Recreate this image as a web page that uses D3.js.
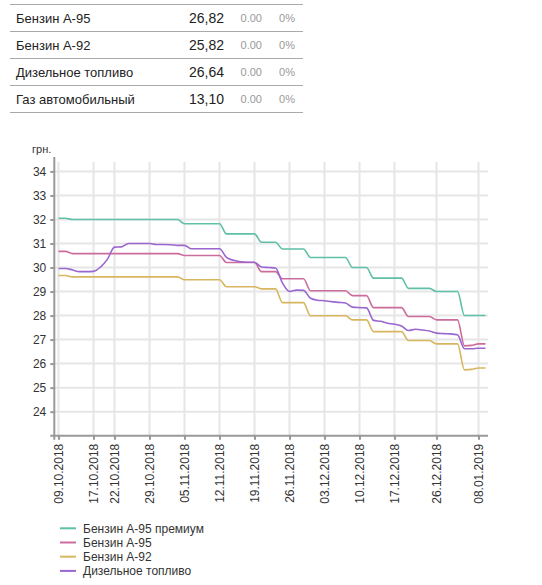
<!DOCTYPE html>
<html><head><meta charset="utf-8">
<script src="https://cdn.jsdelivr.net/npm/d3@7"></script>
<style>
html,body{margin:0;padding:0;background:#fff;}
svg{display:block;font-family:Arial,"Liberation Sans",sans-serif;}
</style></head>
<body>
<svg id="c" width="542" height="585"></svg>
<script>
// ---- table data ----
const fuelNames = ["Бензин А-95", "Бензин А-92", "Дизельное топливо", "Газ автомобильный"];
const fuelPrices = ["26,82", "25,82", "26,64", "13,10"];
const fuelChanges = ["0.00", "0.00", "0.00", "0.00"];
const fuelPct = ["0%", "0%", "0%", "0%"];

// ---- chart data ----
const dates = [
 "09.10.2018","10.10.2018","11.10.2018","12.10.2018","16.10.2018","17.10.2018","18.10.2018","19.10.2018",
 "22.10.2018","23.10.2018","24.10.2018","25.10.2018","26.10.2018","29.10.2018","30.10.2018","31.10.2018",
 "01.11.2018","02.11.2018","05.11.2018","06.11.2018","07.11.2018","08.11.2018","09.11.2018","12.11.2018",
 "13.11.2018","14.11.2018","15.11.2018","16.11.2018","19.11.2018","20.11.2018","21.11.2018","22.11.2018",
 "23.11.2018","26.11.2018","27.11.2018","28.11.2018","29.11.2018","30.11.2018","03.12.2018","04.12.2018",
 "05.12.2018","06.12.2018","07.12.2018","10.12.2018","11.12.2018","12.12.2018","13.12.2018","14.12.2018",
 "17.12.2018","18.12.2018","19.12.2018","20.12.2018","21.12.2018","24.12.2018","26.12.2018","27.12.2018",
 "28.12.2018","02.01.2019","03.01.2019","04.01.2019","08.01.2019","09.01.2019"];
const tickDates = ["09.10.2018","17.10.2018","22.10.2018","29.10.2018","05.11.2018","12.11.2018","19.11.2018",
 "26.11.2018","03.12.2018","10.12.2018","17.12.2018","26.12.2018","08.01.2019"];
const yTicks = [24,25,26,27,28,29,30,31,32,33,34];

const seriesNames = ["Бензин А-95 премиум", "Бензин А-95", "Бензин А-92", "Дизельное топливо"];
const seriesColors = ["#5fbfa7", "#cc6c9c", "#d8b660", "#9a66d0"];

const premium95 = [32.05,32.05,32.0,32.0,32.0,32.0,32.0,32.0,32.0,32.0,32.0,32.0,32.0,32.0,32.0,32.0,
 32.0,32.0,31.82,31.82,31.82,31.82,31.82,31.82,31.4,31.4,31.4,31.4,31.4,31.05,31.05,31.05,
 30.77,30.77,30.77,30.77,30.42,30.42,30.42,30.42,30.42,30.42,30.0,30.0,30.0,29.56,29.56,29.56,
 29.56,29.56,29.13,29.13,29.13,29.13,29.0,29.0,29.0,29.0,28.0,28.0,28.0,28.0];
const a95 = [30.67,30.67,30.58,30.58,30.58,30.58,30.58,30.58,30.58,30.58,30.58,30.58,30.58,30.58,30.58,30.58,
 30.58,30.58,30.5,30.5,30.5,30.5,30.5,30.5,30.21,30.21,30.21,30.21,30.21,29.83,29.83,29.83,
 29.53,29.53,29.53,29.53,29.03,29.03,29.03,29.03,29.03,29.03,28.83,28.83,28.83,28.33,28.33,28.33,
 28.33,28.33,27.96,27.96,27.96,27.96,27.82,27.82,27.82,27.82,26.74,26.76,26.82,26.82];
const a92 = [29.67,29.67,29.61,29.61,29.61,29.61,29.61,29.61,29.61,29.61,29.61,29.61,29.61,29.61,29.61,29.61,
 29.61,29.61,29.49,29.49,29.49,29.49,29.49,29.49,29.2,29.2,29.2,29.2,29.2,29.11,29.11,29.11,
 28.54,28.54,28.54,28.54,27.99,27.99,27.99,27.99,27.99,27.99,27.82,27.82,27.82,27.33,27.33,27.33,
 27.33,27.33,26.96,26.96,26.96,26.96,26.82,26.82,26.82,26.82,25.74,25.76,25.82,25.82];
const diesel = [29.96,29.96,29.9,29.83,29.83,29.84,30.02,30.35,30.85,30.86,31.0,31.0,31.0,31.0,30.96,30.96,
 30.95,30.92,30.92,30.78,30.78,30.78,30.78,30.78,30.42,30.3,30.24,30.22,30.22,30.02,30.0,29.98,
 29.35,29.0,29.06,29.05,28.72,28.64,28.62,28.58,28.55,28.52,28.35,28.33,28.32,27.8,27.76,27.68,
 27.64,27.57,27.38,27.43,27.4,27.36,27.27,27.25,27.24,27.2,26.62,26.62,26.64,26.64];
const seriesValues = [premium95, a95, a92, diesel];

(function () {
const svg = d3.select("#c");

// ---- table ----
const rowTop = 4.5, rowH = 27;
const tbl = svg.append("g");
tbl.append("line").attr("x1", 10).attr("x2", 303).attr("y1", rowTop).attr("y2", rowTop)
  .attr("stroke", "#aaa").attr("stroke-width", 1);
fuelNames.forEach((n, i) => {
  const cy = rowTop + rowH * i + rowH / 2;
  tbl.append("text").attr("x", 16).attr("y", cy + 4.5).attr("font-size", 13).attr("fill", "#222").text(n);
  tbl.append("text").attr("x", 224).attr("y", cy + 5).attr("font-size", 14).attr("fill", "#222")
    .attr("text-anchor", "end").text(fuelPrices[i]);
  tbl.append("text").attr("x", 262).attr("y", cy + 4).attr("font-size", 11).attr("fill", "#999")
    .attr("text-anchor", "end").text(fuelChanges[i]);
  tbl.append("text").attr("x", 295).attr("y", cy + 4).attr("font-size", 11).attr("fill", "#999")
    .attr("text-anchor", "end").text(fuelPct[i]);
  tbl.append("line").attr("x1", 10).attr("x2", 303)
    .attr("y1", rowTop + rowH * (i + 1)).attr("y2", rowTop + rowH * (i + 1))
    .attr("stroke", "#aaa").attr("stroke-width", 1);
});

// ---- chart ----
const pLeft = 54.3, pRight = 488, pTop = 157, pBottom = 435.7;
const x = d3.scalePoint().domain(dates).range([58.5, 485.5]);
const y = d3.scaleLinear().domain([23, 34.6]).range([pBottom, pTop]);

const grid = svg.append("g");
grid.selectAll("line.h").data(yTicks).join("line").attr("class", "h")
  .attr("x1", pLeft).attr("x2", pRight).attr("y1", d => y(d)).attr("y2", d => y(d))
  .attr("stroke", "#e6e6e6").attr("stroke-width", 2);
grid.selectAll("line.v").data(tickDates).join("line").attr("class", "v")
  .attr("x1", d => x(d)).attr("x2", d => x(d)).attr("y1", pTop + 5).attr("y2", pBottom)
  .attr("stroke", "#e6e6e6").attr("stroke-width", 2);

// axes
const yAxis = d3.axisLeft(y).tickValues(yTicks).tickSize(4).tickPadding(4);
const gy = svg.append("g").attr("transform", `translate(${pLeft},0)`).call(yAxis);
gy.select(".domain").remove();
gy.append("line").attr("x1", 0).attr("x2", 0).attr("y1", pTop).attr("y2", pBottom + 4)
  .attr("stroke", "#999").attr("stroke-width", 2);
gy.selectAll(".tick line").attr("stroke", "#999").attr("stroke-width", 2);
gy.selectAll(".tick text").attr("font-size", 12).attr("fill", "#333").attr("font-family", "Arial,'Liberation Sans',sans-serif");

const xAxis = d3.axisBottom(x).tickValues(tickDates).tickSize(4).tickPadding(6);
const gx = svg.append("g").attr("transform", `translate(0,${pBottom})`).call(xAxis);
gx.select(".domain").remove();
gx.append("line").attr("x1", pLeft - 4).attr("x2", pRight).attr("y1", 0).attr("y2", 0)
  .attr("stroke", "#999").attr("stroke-width", 2);
gx.selectAll(".tick line").attr("stroke", "#999").attr("stroke-width", 2);
gx.selectAll(".tick text").attr("font-size", 12).attr("fill", "#333")
  .attr("font-family", "Arial,'Liberation Sans',sans-serif")
  .attr("text-anchor", "end").attr("dy", null)
  .attr("transform", "translate(4,8) rotate(-90)").attr("x", 0).attr("y", 0);

svg.append("text").attr("x", 32).attr("y", 153).attr("font-size", 11).attr("fill", "#333").text("грн.");

// lines
const line = d3.line().x((d, i) => x(dates[i])).y(d => y(d)).curve(d3.curveMonotoneX);
seriesValues.forEach((vals, k) => {
  svg.append("path").datum(vals).attr("d", line).attr("fill", "none")
    .attr("stroke", seriesColors[k]).attr("stroke-width", 1.6);
});

// legend
const lg = svg.append("g");
seriesNames.forEach((n, k) => {
  const cy = 528.3 + 14.2 * k;
  lg.append("line").attr("x1", 60).attr("x2", 76).attr("y1", cy).attr("y2", cy)
    .attr("stroke", seriesColors[k]).attr("stroke-width", 2);
  lg.append("text").attr("x", 83).attr("y", cy + 4.2).attr("font-size", 12).attr("fill", "#333").text(n);
});
})();
</script>
</body></html>
